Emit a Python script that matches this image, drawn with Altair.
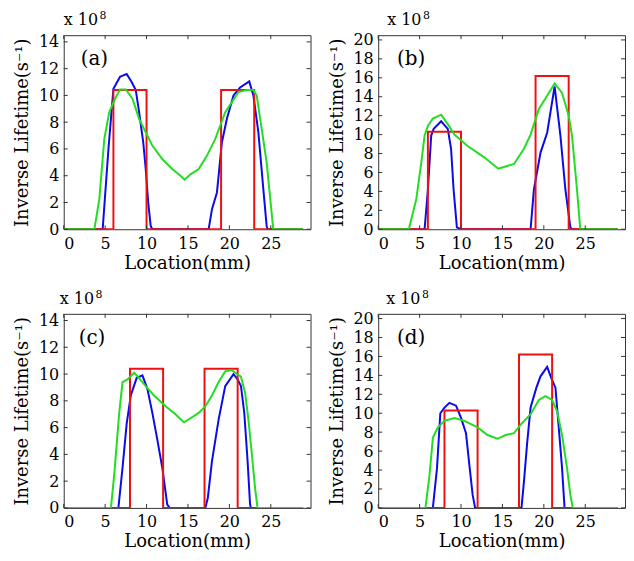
import altair as alt
import pandas as pd

FONT = "DejaVu Serif"
X_TICKS = [0, 5, 10, 15, 20, 25]
X_MAX = 29.8

# ---------- panel (a) ----------
a_red_x = [0, 6, 6, 10, 10, 19, 19, 23, 23, 28.9]
a_red_y = [0, 0, 10.4, 10.4, 0, 0, 10.4, 10.4, 0, 0]
a_blue_x = [0, 4.7, 5.4, 6.0, 6.8, 7.6, 8.2, 8.7, 9.1, 9.6, 9.9, 10.2, 10.5, 10.7,
            17.5, 17.9, 18.5, 19.1, 19.7, 20.5, 21.3, 22.4, 22.9, 23.5, 24.1, 24.5, 24.6, 28.9]
a_blue_y = [0, 0, 6.0, 10.5, 11.4, 11.6, 11.0, 10.4, 8.75, 6.5, 4.5, 2.0, 0.25, 0,
            0, 1.5, 2.75, 6.5, 8.25, 10.0, 10.6, 11.05, 10.0, 7.25, 3.0, 0.25, 0, 0]
a_green_x = [0, 3.7, 4.3, 4.9, 5.5, 6.2, 6.8, 7.5, 8.3, 9.1, 9.9, 10.7, 11.9, 13.1, 14.1,
             14.6, 15.3, 16.3, 17.3, 18.3, 19.5, 20.3, 21.1, 22.1, 22.9, 23.3, 23.9, 24.5,
             24.9, 25.3, 28.9]
a_green_y = [0, 0, 2.25, 6.75, 8.75, 9.75, 10.45, 10.45, 9.75, 8.25, 7.25, 6.25, 5.25, 4.5, 4.0,
             3.7, 4.1, 4.5, 5.5, 6.75, 8.75, 9.5, 10.25, 10.4, 10.4, 10.0, 7.5, 5.0,
             2.5, 0, 0]

# ---------- panel (b) ----------
b_red_x = [0, 6, 6, 10, 10, 19, 19, 23, 23, 28.9]
b_red_y = [0, 0, 10.3, 10.3, 0, 0, 16.2, 16.2, 0, 0]
b_blue_x = [0, 5.6, 6.0, 6.4, 6.7, 7.6, 8.4, 8.8, 9.1, 9.5, 10.0,
            18.4, 18.8, 19.6, 20.4, 21.3, 22.0, 22.6, 23.2, 23.4, 28.9]
b_blue_y = [0, 0, 4.2, 9.9, 10.6, 11.4, 10.6, 8.5, 4.2, 0.2, 0,
            0, 4.2, 8.1, 10.2, 15.1, 9.9, 4.2, 0.2, 0, 0]
b_green_x = [0, 3.7, 4.6, 5.2, 5.6, 6.0, 6.6, 7.6, 8.4, 9.2, 10.8, 12.8, 14.5, 16.4,
             17.6, 18.4, 19.4, 20.4, 21.3, 22.2, 23.0, 23.4, 24.0, 24.4, 28.9]
b_green_y = [0, 0, 3.2, 7.0, 9.9, 10.9, 11.7, 12.1, 11.1, 10.0, 8.8, 7.6, 6.4, 6.9,
             8.5, 10.0, 12.7, 14.1, 15.4, 14.4, 12.0, 9.9, 4.2, 0, 0]

# ---------- panel (c) ----------
c_red_x = [0, 8, 8, 12, 12, 17, 17, 21, 21, 28.9]
c_red_y = [0, 0, 10.4, 10.4, 0, 0, 10.4, 10.4, 0, 0]
c_blue_x = [0, 6.6, 7.1, 7.6, 8.1, 8.8, 9.5, 10.1, 10.7, 11.3, 11.9, 12.5, 12.8,
            17.1, 17.4, 17.9, 18.7, 19.5, 20.5, 21.0, 21.4, 21.8, 22.2, 22.5, 22.6, 28.9]
c_blue_y = [0, 0, 3.0, 6.3, 8.4, 9.7, 9.9, 8.9, 7.1, 5.1, 3.0, 0.25, 0,
            0, 0.75, 3.5, 6.6, 9.1, 10.0, 9.6, 9.1, 7.1, 3.5, 0.25, 0, 0]
c_green_x = [0, 5.7, 6.1, 6.7, 7.1, 7.7, 8.5, 9.1, 9.9, 10.9, 12.3, 13.5, 14.5, 15.3,
             16.3, 17.1, 17.9, 18.7, 19.5, 20.3, 20.9, 21.4, 21.9, 22.3, 22.7, 23.1,
             23.4, 28.9]
c_green_y = [0, 0, 2.5, 7.1, 9.4, 9.6, 10.1, 9.7, 9.1, 8.4, 7.6, 7.0, 6.4, 6.7,
             7.1, 7.6, 8.4, 9.4, 10.2, 10.3, 10.0, 9.8, 8.6, 6.6, 4.1, 1.5,
             0, 0]

# ---------- panel (d) ----------
d_red_x = [0, 8, 8, 12, 12, 17, 17, 21, 21, 28.9]
d_red_y = [0, 0, 10.3, 10.3, 0, 0, 16.2, 16.2, 0, 0]
d_blue_x = [0, 6.6, 7.1, 7.5, 8.0, 8.6, 9.4, 10.0, 10.6, 11.0, 11.4, 11.7,
            17.3, 17.6, 18.0, 18.4, 19.1, 19.6, 20.4, 20.9, 21.4, 21.8, 22.2, 22.5, 28.9]
d_blue_y = [0, 0, 4.2, 10.0, 10.6, 11.1, 10.8, 9.5, 7.9, 4.6, 1.4, 0,
            0, 2.8, 7.0, 10.6, 12.7, 13.9, 14.9, 13.7, 12.7, 8.5, 4.2, 0, 0]
d_green_x = [0, 5.7, 6.2, 6.6, 7.2, 8.0, 9.2, 10.4, 12.0, 13.2, 14.4, 15.4, 16.4, 17.2,
             18.4, 19.4, 20.2, 21.0, 21.6, 22.2, 22.8, 23.2, 23.5, 28.9]
d_green_y = [0, 0, 3.5, 7.4, 8.5, 9.2, 9.5, 9.2, 8.5, 7.7, 7.3, 7.7, 7.9, 8.8,
             9.9, 11.4, 11.8, 11.4, 10.2, 7.7, 4.2, 1.4, 0, 0]

Y_TICKS_SMALL = [0, 2, 4, 6, 8, 10, 12, 14]
Y_TICKS_LARGE = [0, 2, 4, 6, 8, 10, 12, 14, 16, 18, 20]

W, H = 248, 195
COL_BLUE = "#0a0aea"
COL_RED = "#ee1111"
COL_GREEN = "#22dd22"


def series_df(xs, ys):
    return pd.DataFrame({"x": xs, "y": ys, "i": list(range(len(xs)))})


def panel(label, red, blue, green, yticks, ymax, lab_dx, exp_dx):
    xs = alt.Scale(domain=[0, X_MAX], nice=False, zero=False)
    ys = alt.Scale(domain=[0, ymax], nice=False, zero=False)
    xaxis = alt.Axis(values=X_TICKS, title="Location(mm)", grid=False,
                     ticks=False, domain=False, labelPadding=6,
                     titlePadding=3, labelOverlap=False)
    yaxis = alt.Axis(values=yticks, title="Inverse Lifetime(s⁻¹)",
                     grid=False, ticks=False, domain=False,
                     labelPadding=5, titlePadding=7, labelOverlap=False)
    xenc = alt.X("x:Q", scale=xs, axis=xaxis)
    yenc = alt.Y("y:Q", scale=ys, axis=yaxis)

    def line(xy, color):
        return alt.Chart(series_df(*xy)).mark_line(
            color=color, strokeWidth=2, clip=True
        ).encode(x=xenc, y=yenc, order="i:Q")

    ydf = pd.DataFrame({"y": yticks})
    xdf = pd.DataFrame({"x": X_TICKS})
    tick_style = dict(color="#333", strokeWidth=1)
    yt_l = alt.Chart(ydf).mark_rule(**tick_style).encode(
        y=yenc, x=alt.value(0), x2=alt.value(4))
    yt_r = alt.Chart(ydf).mark_rule(**tick_style).encode(
        y=yenc, x=alt.value(W - 4), x2=alt.value(W))
    xt_b = alt.Chart(xdf).mark_rule(**tick_style).encode(
        x=xenc, y=alt.value(H), y2=alt.value(H - 4))
    xt_t = alt.Chart(xdf).mark_rule(**tick_style).encode(
        x=xenc, y=alt.value(0), y2=alt.value(4))

    lab = alt.Chart(pd.DataFrame({"t": [label]})).mark_text(
        font=FONT, fontSize=20, align="left", baseline="middle", color="black"
    ).encode(x=alt.value(lab_dx), y=alt.value(24), text="t:N")
    expo = alt.Chart(pd.DataFrame({"t": ["x 10"]})).mark_text(
        font=FONT, fontSize=16, align="left", baseline="middle", color="black"
    ).encode(x=alt.value(exp_dx), y=alt.value(-15), text="t:N")
    expo8 = alt.Chart(pd.DataFrame({"t": ["8"]})).mark_text(
        font=FONT, fontSize=11, align="left", baseline="middle", color="black"
    ).encode(x=alt.value(exp_dx + 36), y=alt.value(-19), text="t:N")

    return alt.layer(
        line(blue, COL_BLUE), line(red, COL_RED), line(green, COL_GREEN),
        yt_l, yt_r, xt_b, xt_t, lab, expo, expo8
    ).properties(width=W, height=H)


pa = panel("(a)", (a_red_x, a_red_y), (a_blue_x, a_blue_y), (a_green_x, a_green_y),
           Y_TICKS_SMALL, 14.5, 17, 0)
pb = panel("(b)", (b_red_x, b_red_y), (b_blue_x, b_blue_y), (b_green_x, b_green_y),
           Y_TICKS_LARGE, 20.5, 19, 9)
pc = panel("(c)", (c_red_x, c_red_y), (c_blue_x, c_blue_y), (c_green_x, c_green_y),
           Y_TICKS_SMALL, 14.5, 15, -4)
pd_ = panel("(d)", (d_red_x, d_red_y), (d_blue_x, d_blue_y), (d_green_x, d_green_y),
            Y_TICKS_LARGE, 20.5, 19, 8)

chart = alt.vconcat(
    alt.hconcat(pa, pb, spacing=16),
    alt.hconcat(pc, pd_, spacing=16),
    spacing=15,
).properties(
    padding={"left": 5, "top": 0, "right": 0, "bottom": 0}, background="white"
).configure_view(
    stroke="#333", strokeWidth=1
).configure_axis(
    labelFont=FONT, titleFont=FONT, labelFontSize=16, titleFontSize=18,
    labelColor="black", titleColor="black", titleFontWeight="normal"
)

chart.save("out.html", embed_options={"renderer": "svg", "actions": False})
